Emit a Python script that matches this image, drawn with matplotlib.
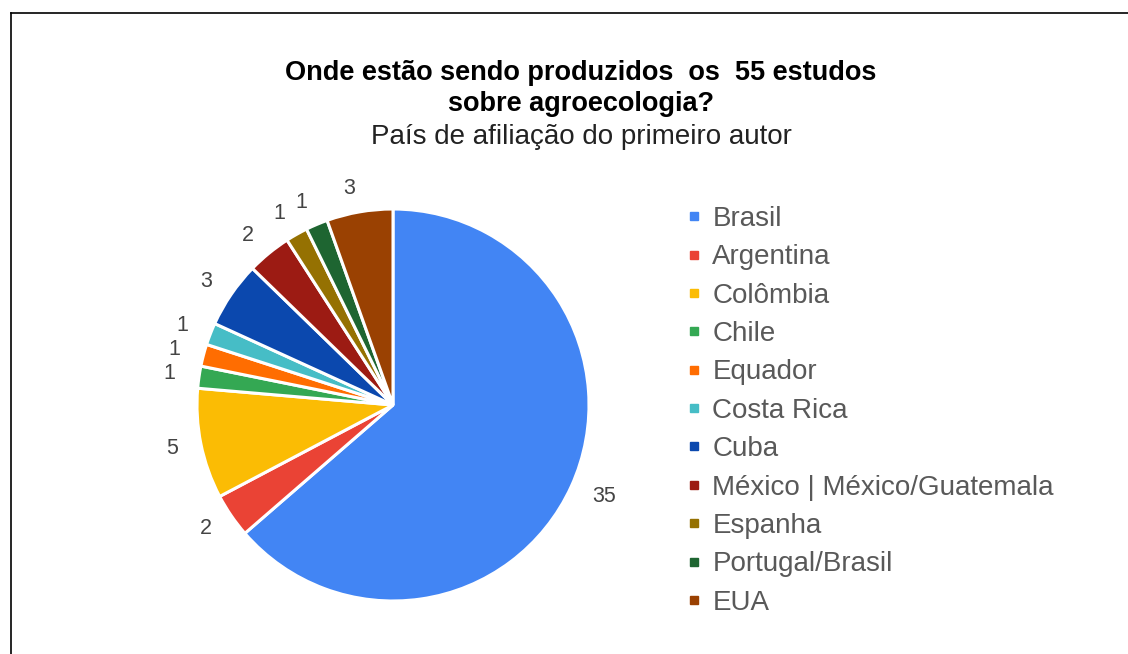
import matplotlib.pyplot as plt
from matplotlib.lines import Line2D

plt.rcParams['font.family'] = ['Liberation Sans', 'DejaVu Sans']

# data
countries = ['Brasil', 'Argentina', 'Colômbia', 'Chile', 'Equador', 'Costa Rica',
             'Cuba', 'México | México/Guatemala', 'Espanha', 'Portugal/Brasil', 'EUA']
counts = [35, 2, 5, 1, 1, 1, 3, 2, 1, 1, 3]
colors = ['#4285F4', '#EA4335', '#FBBC04', '#34A853', '#FF6D01', '#46BDC6',
          '#0B48AE', '#9C1B13', '#957102', '#1E6531', '#9A4102']

W, H = 1128, 654
fig = plt.figure(figsize=(W / 100, H / 100), dpi=100)

# frame (top and left edges visible)
fig.add_artist(Line2D([10.5 / W, 10.5 / W], [0, 1 - 12.5 / H], color='black', lw=1.2))
fig.add_artist(Line2D([10.5 / W, 1], [1 - 12.5 / H, 1 - 12.5 / H], color='black', lw=1.2))

# pie
cx, cy, r = 393, 405, 196
ax = fig.add_axes([(cx - r) / W, 1 - (cy + r) / H, 2 * r / W, 2 * r / H])
wedges, texts = ax.pie(counts, colors=colors, labels=[str(c) for c in counts],
                       startangle=90, counterclock=False, labeldistance=1.12,
                       wedgeprops=dict(edgecolor='white', linewidth=2.2),
                       textprops=dict(fontsize=15.5, color='#444444'))
ax.set_xlim(-1, 1)
ax.set_ylim(-1, 1)
ax.set_aspect('equal')
ax.axis('off')

# titles
fig.text(581 / W, 1 - 73 / H, 'Onde estão sendo produzidos  os  55 estudos',
         ha='center', va='center', fontsize=19.5, fontweight='bold', color='black')
fig.text(581 / W, 1 - 104 / H, 'sobre agroecologia?',
         ha='center', va='center', fontsize=19.5, fontweight='bold', color='black')
fig.text(581 / W, 1 - 137 / H, 'País de afiliação do primeiro autor',
         ha='center', va='center', fontsize=20, color='#222222')

# legend
handles = [Line2D([], [], marker='s', ls='none', color=c, markersize=6) for c in colors]
fig.legend(handles, countries, loc='upper left', bbox_to_anchor=(686 / W, 1 - 206 / H),
           frameon=False, fontsize=20, labelcolor='#595959', handlelength=0.6,
           handletextpad=0.35, labelspacing=0.445, borderpad=0, borderaxespad=0)

fig.savefig('out.png', dpi=100)
